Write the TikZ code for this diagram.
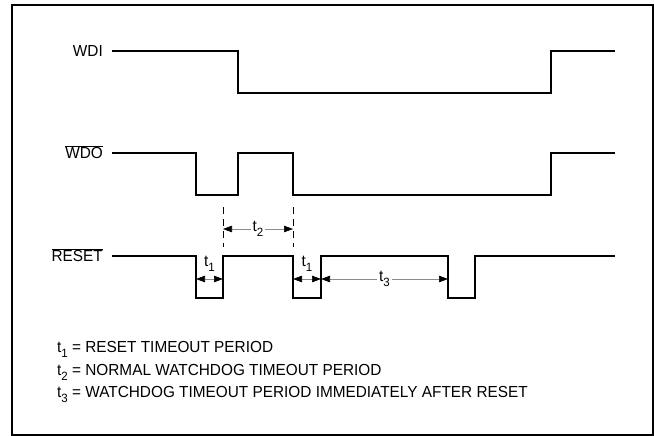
\documentclass[tikz,border=0pt]{standalone}
\usepackage{fontspec}
\setmainfont{Liberation Sans}[FakeStretch=0.96]
\usepackage{tikz}
\usetikzlibrary{arrows.meta, positioning}

\newcommand{\tsub}[1]{t\raisebox{-0.32em}{\fontsize{12}{12}\selectfont #1}}
\newcommand{\barsig}[1]{$\overline{\hbox{#1}}$}

\begin{document}
\begin{tikzpicture}[
  x=1pt, y=-1pt,
  font=\fontsize{16}{19}\selectfont,
  wave/.style={line width=1.3pt, line join=miter},
  dimline/.style={draw=black!45, line width=0.6pt,
    {Triangle[length=9pt, width=6.5pt, color=black]}-{Triangle[length=9pt, width=6.5pt, color=black]}},
  marker/.style={line width=0.8pt, dash pattern=on 7pt off 5pt},
  siglabel/.style={anchor=base east, inner sep=0pt},
  tlabel/.style={fill=white, inner sep=2pt},
]
  \useasboundingbox (0,0) rectangle (654,436);
  \draw[line width=1.5pt] (12,5) rectangle (653,435);

  % signal names
  \node[siglabel] (wdi) at (103,56.5) {WDI};
  \node[siglabel] (wdo) at (103,158.5) {\barsig{WDO}};
  \node[siglabel] (rst) at (103,261.5) {\barsig{RESET}};

  % waveforms
  \draw[wave] (112,51) -- (238,51) -- (238,93) -- (551,93) -- (551,51) -- (615,51);
  \draw[wave] (112,153) -- (196,153) -- (196,195) -- (238,195) -- (238,153)
    -- (293,153) -- (293,195) -- (551,195) -- (551,153) -- (615,153);
  \draw[wave] (112,256) -- (196,256) -- (196,298) -- (223,298) -- (223,256)
    -- (293,256) -- (293,298) -- (321,298) -- (321,256) -- (448,256)
    -- (448,298) -- (475,298) -- (475,256) -- (615,256);

  % timing marks
  \coordinate (m1top) at (223,207);
  \coordinate (m1bot) at (223,247);
  \coordinate (m2top) at (293,207);
  \coordinate (m2bot) at (293,247);
  \draw[marker] (m1top) -- (m1bot);
  \draw[marker] (m2top) -- (m2bot);

  \coordinate (a1) at (196,279);
  \coordinate (b1) at (223,279);
  \coordinate (a2) at (223,229);
  \coordinate (b2) at (293,229);
  \coordinate (a3) at (293,279);
  \coordinate (b3) at (321,279);
  \coordinate (a4) at (321,279);
  \coordinate (b4) at (448,279);

  \draw[dimline] (a1) -- (b1);
  \draw[dimline] (a3) -- (b3);
  \draw[dimline] (a2) -- node[tlabel] (t2) {\tsub{2}} (b2);
  \draw[dimline] (a4) -- node[tlabel] (t3) {\tsub{3}} (b4);
  \node[anchor=base, inner sep=0pt] (t1a) at (209.5,266) {\tsub{1}};
  \node[anchor=base, inner sep=0pt] (t1b) at (307,266) {\tsub{1}};

  % legend
  \node[anchor=base west, inner sep=0pt] (leg1) at (57,352.5) {\tsub{1} = RESET TIMEOUT PERIOD};
  \node[anchor=base west, inner sep=0pt] (leg2) at (57,375) {\tsub{2} = NORMAL WATCHDOG TIMEOUT PERIOD};
  \node[anchor=base west, inner sep=0pt] (leg3) at (57,397.5) {\tsub{3} = WATCHDOG TIMEOUT PERIOD IMMEDIATELY AFTER RESET};
\end{tikzpicture}
\end{document}
